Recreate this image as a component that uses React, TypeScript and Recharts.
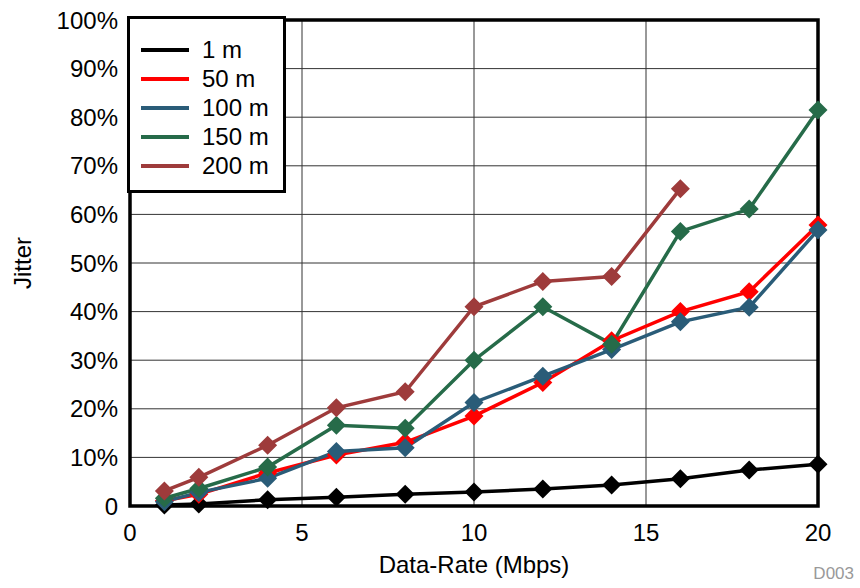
import React from "react";
import {
  LineChart,
  Line,
  XAxis,
  YAxis,
  CartesianGrid,
  ReferenceArea,
  Label,
} from "recharts";

const rates = [1, 2, 4, 6, 8, 10, 12, 14, 16, 18, 20];
const jitter1m = [0.2, 0.4, 1.3, 1.8, 2.4, 2.9, 3.5, 4.3, 5.6, 7.4, 8.6];
const jitter50m = [1.1, 2.4, 6.8, 10.5, 13.1, 18.5, 25.4, 34.0, 40.0, 44.1, 57.8];
const jitter100m = [0.9, 2.8, 5.7, 11.2, 12.0, 21.3, 26.7, 32.2, 37.9, 40.9, 56.8];
const jitter150m = [1.6, 3.6, 8.0, 16.6, 16.0, 30.0, 41.0, 33.3, 56.5, 61.1, 81.5];
const jitter200m: (number | null)[] = [3.1, 5.9, 12.5, 20.2, 23.5, 41.0, 46.2, 47.2, 65.3, null, null];

const xTicks = [0, 5, 10, 15, 20];
const yTicks = [0, 10, 20, 30, 40, 50, 60, 70, 80, 90, 100];

const seriesDefs = [
  { key: "s1", name: "1 m", color: "#000000", values: jitter1m },
  { key: "s50", name: "50 m", color: "#FF0000", values: jitter50m },
  { key: "s100", name: "100 m", color: "#2A5C78", values: jitter100m },
  { key: "s150", name: "150 m", color: "#266B49", values: jitter150m },
  { key: "s200", name: "200 m", color: "#9E3B3B", values: jitter200m },
];

const data = rates.map((r, i) => {
  const row: Record<string, number | null> = { rate: r };
  seriesDefs.forEach((s) => {
    row[s.key] = s.values[i];
  });
  return row;
});

const FONT = "'Liberation Sans', Arial, sans-serif";
const FS = 24;

const Diamond = (props: any) => {
  const { cx, cy, fill } = props;
  if (cx == null || cy == null || props.value == null) return null;
  const r = 9.5;
  return (
    <path
      d={`M${cx},${cy - r} L${cx + r},${cy} L${cx},${cy + r} L${cx - r},${cy} Z`}
      fill={fill}
      stroke="none"
    />
  );
};

const LegendBox = () => (
  <div
    style={{
      position: "absolute",
      left: 127,
      top: 16,
      border: "3px solid #000",
      background: "#fff",
      width: 159,
      height: 177,
      boxSizing: "border-box",
      paddingTop: 16,
      fontFamily: FONT,
      fontSize: FS,
    }}
  >
    {seriesDefs.map((s) => (
      <div
        key={s.key}
        style={{ display: "flex", alignItems: "center", height: 29 }}
      >
        <div
          style={{
            marginLeft: 11,
            width: 48,
            height: 4,
            background: s.color,
          }}
        />
        <span style={{ marginLeft: 13, color: "#000", lineHeight: "29px" }}>
          {s.name}
        </span>
      </div>
    ))}
  </div>
);

export default function App() {
  return (
    <div style={{ position: "absolute", left: 0, top: 0, width: 860, height: 588, background: "#fff" }}>
      <LineChart
        width={860}
        height={588}
        data={data}
        margin={{ top: 20, right: 42, bottom: 0, left: 0 }}
      >
        <CartesianGrid stroke="#333" strokeWidth={1} />
        <XAxis
          dataKey="rate"
          type="number"
          domain={[0, 20]}
          ticks={xTicks}
          height={82}
          tickSize={0}
          tickMargin={18}
          axisLine={false}
          tick={{ fill: "#000", fontSize: FS, fontFamily: FONT }}
        >
          <Label
            value="Data-Rate (Mbps)"
            position="insideBottom"
            offset={15}
            style={{ fill: "#000", fontSize: FS, fontFamily: FONT }}
          />
        </XAxis>
        <YAxis
          type="number"
          domain={[0, 100]}
          ticks={yTicks}
          width={130}
          tickSize={0}
          tickMargin={12}
          axisLine={false}
          interval={0}
          tickFormatter={(v: number) => (v === 0 ? "0" : `${v}%`)}
          tick={{ fill: "#000", fontSize: FS, fontFamily: FONT }}
        >
          <Label
            content={(p: any) => {
              const vb = p.viewBox || {};
              const x = (vb.x ?? 0) + 22;
              const y = (vb.y ?? 0) + (vb.height ?? 0) / 2;
              return (
                <text
                  x={x}
                  y={y}
                  transform={`rotate(-90 ${x} ${y})`}
                  textAnchor="middle"
                  dominantBaseline="central"
                  fill="#000"
                  fontSize={FS}
                  fontFamily={FONT}
                >
                  Jitter
                </text>
              );
            }}
          />
        </YAxis>
        <ReferenceArea
          x1={0}
          x2={20}
          y1={0}
          y2={100}
          fill="none"
          stroke="#000"
          strokeWidth={3.5}
          ifOverflow="visible"
        />
        {seriesDefs.map((s) => (
          <Line
            key={s.key}
            dataKey={s.key}
            name={s.name}
            stroke={s.color}
            strokeWidth={3.5}
            fill={s.color}
            dot={<Diamond fill={s.color} />}
            activeDot={false}
            isAnimationActive={false}
            connectNulls={false}
          />
        ))}
      </LineChart>
      <LegendBox />
      <div
        style={{
          position: "absolute",
          right: 6,
          top: 564,
          fontFamily: FONT,
          fontSize: 17,
          color: "#999",
        }}
      >
        D003
      </div>
    </div>
  );
}
